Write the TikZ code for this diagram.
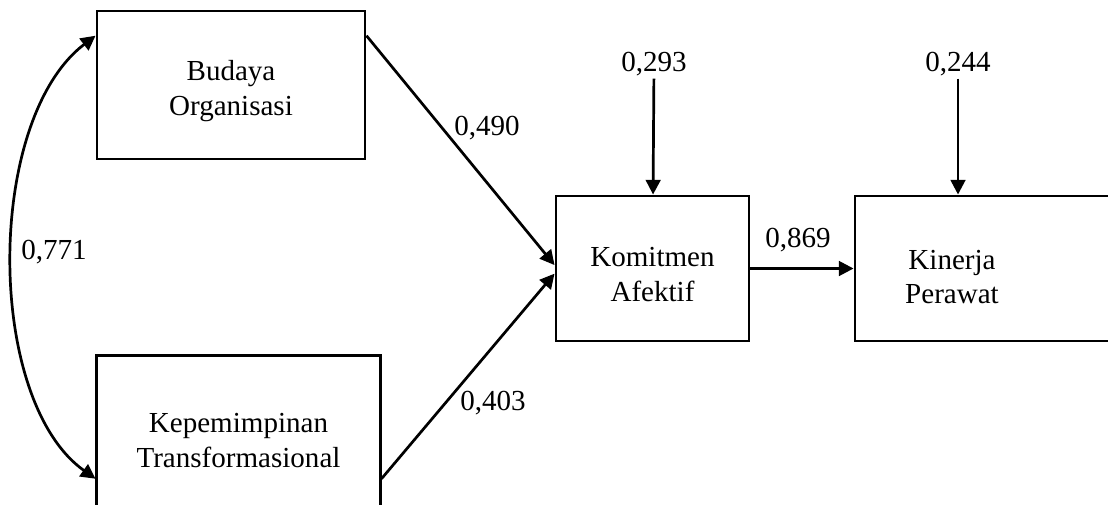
\documentclass[tikz,border=0pt]{standalone}
\usepackage{fontspec}
\setmainfont{Liberation Serif}
\usetikzlibrary{arrows.meta}
\tikzset{
  var/.style={draw,line width=1.3pt},
  txt/.style={align=center,font=\fontsize{12.9pt}{15.5pt}\selectfont},
  coef/.style={inner sep=1pt,font=\fontsize{12.9pt}{15.5pt}\selectfont},
  effect/.style={line width=1.2pt,->}
}
\begin{document}
\begin{tikzpicture}[x=0.444pt,y=-0.444pt,>={Triangle[length=6.5pt,width=6.5pt]}]
\useasboundingbox (0,0) rectangle (1108,504);
\begin{scope}
\path[clip] (0,0) rectangle (1108,504);
\node[var,minimum width=119pt,minimum height=65.7pt] (bud) at (231,85) {};
\node[var,minimum width=125.7pt,minimum height=71pt] (kep) at (238.5,435) {};
\node[var,minimum width=85.7pt,minimum height=64.4pt] (kom) at (652.5,268.5) {};
\node[var,minimum width=133.2pt,minimum height=64.4pt] (kin) at (1005,268.5) {};
\node[txt] (budtext) at ([yshift=-2.7pt]bud.center) {Budaya\\Organisasi};
\node[txt] (keptext) at ([yshift=-2.5pt]kep.center) {Kepemimpinan\\Transformasional};
\node[txt] (komtext) at ([yshift=-2.7pt]kom.center) {Komitmen\\Afektif};
\node[txt] (kintext) at (952,277) {Kinerja\\Perawat};
\node[coef] (e1) at (654,64) {0,293};
\node[coef] (e2) at (958,64) {0,244};
\node[coef] (p1) at (487,128) {0,490};
\node[coef] (p2) at (493,403) {0,403};
\node[coef] (p3) at (798,240) {0,869};
\node[coef] (r) at (54,252) {0,771};
\draw[effect] (bud.20) -- (kom.178);
\draw[effect] (kep.343.5) -- (kom.183);
\draw[effect] (kom) -- (kin);
\draw[effect] (e1) -- (kom);
\draw[effect] (e2) -- (e2 |- kin.north);
\draw[line width=1.2pt,<->] (bud.160) .. controls (-15,120) and (-15,400) .. (kep.197);
\end{scope}
\end{tikzpicture}
\end{document}
